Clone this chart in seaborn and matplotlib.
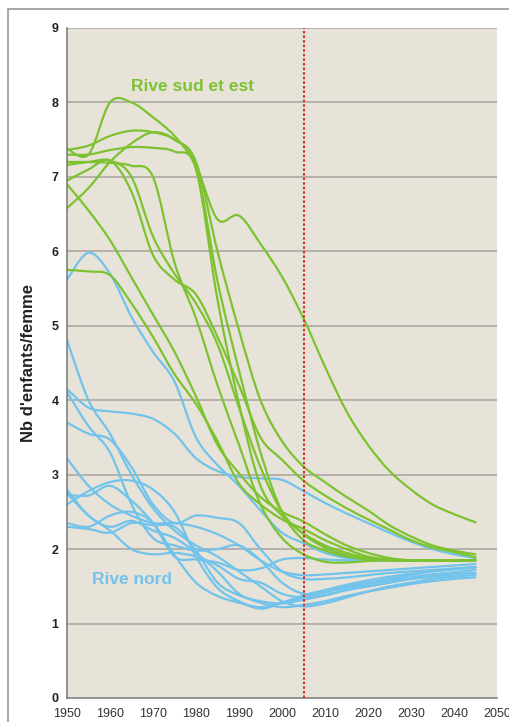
import matplotlib
matplotlib.use("Agg")
import matplotlib.pyplot as plt
import seaborn as sns
import pandas as pd
import numpy as np
from matplotlib.patches import Rectangle, PathPatch
from matplotlib.path import Path

years = [1950, 1955, 1960, 1965, 1970, 1975, 1980, 1985, 1990, 1995,
         2000, 2005, 2010, 2015, 2020, 2025, 2030, 2035, 2040, 2045]

# Rive sud et est
sud_palestine = [7.38, 7.3, 8.0, 8.0, 7.8, 7.55, 7.15, 6.43, 6.48, 6.1, 5.66, 5.1, 4.45, 3.85, 3.4, 3.05, 2.8, 2.6, 2.47, 2.36]
sud_syrie = [7.36, 7.42, 7.55, 7.62, 7.6, 7.5, 7.2, 6.0, 4.94, 4.0, 3.45, 3.11, 2.9, 2.7, 2.52, 2.32, 2.17, 2.05, 1.98, 1.93]
sud_algerie = [7.30, 7.30, 7.36, 7.40, 7.39, 7.34, 7.1, 5.35, 3.95, 2.85, 2.45, 2.21, 2.05, 1.95, 1.88, 1.85, 1.85, 1.85, 1.85, 1.85]
sud_libye = [6.58, 6.85, 7.2, 7.45, 7.6, 7.5, 7.15, 5.6, 4.4, 3.3, 2.5, 2.12, 1.98, 1.9, 1.86, 1.85, 1.85, 1.85, 1.85, 1.85]
sud_egypte = [6.95, 7.1, 7.22, 6.8, 5.95, 5.62, 5.42, 4.85, 4.2, 3.5, 3.2, 2.92, 2.72, 2.55, 2.4, 2.26, 2.12, 2.02, 1.96, 1.89]
sud_maroc = [7.16, 7.2, 7.22, 7.0, 6.2, 5.7, 5.3, 4.75, 3.9, 3.1, 2.5, 2.2, 2.02, 1.92, 1.87, 1.85, 1.85, 1.85, 1.85, 1.85]
sud_tunisie = [7.2, 7.2, 7.19, 7.15, 7.0, 5.85, 5.1, 4.2, 3.4, 2.6, 2.15, 1.93, 1.83, 1.82, 1.84, 1.85, 1.85, 1.85, 1.85, 1.85]
sud_turquie = [6.9, 6.55, 6.15, 5.65, 5.15, 4.65, 4.05, 3.4, 3.02, 2.7, 2.5, 2.37, 2.2, 2.05, 1.95, 1.88, 1.85, 1.85, 1.85, 1.85]
sud_liban = [5.75, 5.73, 5.68, 5.3, 4.85, 4.35, 3.95, 3.45, 2.88, 2.6, 2.4, 2.27, 2.12, 2.0, 1.9, 1.86, 1.85, 1.85, 1.85, 1.85]

# Rive nord
nord_albanie = [5.62, 5.98, 5.7, 5.12, 4.65, 4.25, 3.5, 3.13, 2.85, 2.52, 2.22, 2.08, 1.95, 1.88, 1.85, 1.85, 1.85, 1.85, 1.85, 1.85]
nord_bosnie = [4.81, 4.0, 3.55, 3.0, 2.55, 2.25, 2.05, 1.9, 1.7, 1.5, 1.3, 1.23, 1.27, 1.35, 1.43, 1.5, 1.55, 1.6, 1.63, 1.65]
nord_israel = [4.15, 3.9, 3.85, 3.82, 3.75, 3.55, 3.22, 3.05, 2.97, 2.95, 2.93, 2.78, 2.62, 2.48, 2.35, 2.22, 2.1, 2.0, 1.93, 1.88]
nord_malte = [4.11, 3.65, 3.3, 2.6, 2.15, 2.05, 1.98, 2.0, 2.05, 1.85, 1.55, 1.4, 1.42, 1.5, 1.55, 1.6, 1.65, 1.7, 1.73, 1.76]
nord_chypre = [3.7, 3.55, 3.47, 3.1, 2.6, 2.35, 2.45, 2.42, 2.35, 2.0, 1.7, 1.6, 1.6, 1.62, 1.65, 1.68, 1.7, 1.72, 1.74, 1.76]
nord_serbie = [3.22, 2.85, 2.6, 2.45, 2.35, 2.35, 2.3, 2.2, 2.05, 1.85, 1.7, 1.65, 1.66, 1.68, 1.7, 1.72, 1.74, 1.76, 1.78, 1.8]
nord_slovenie = [2.8, 2.45, 2.3, 2.38, 2.25, 2.15, 1.95, 1.7, 1.4, 1.28, 1.22, 1.25, 1.3, 1.37, 1.43, 1.48, 1.53, 1.57, 1.6, 1.62]
nord_croatie = [2.75, 2.45, 2.25, 2.0, 1.93, 1.95, 1.9, 1.78, 1.6, 1.55, 1.4, 1.35, 1.38, 1.45, 1.5, 1.55, 1.6, 1.63, 1.66, 1.68]
nord_france = [2.73, 2.72, 2.85, 2.65, 2.35, 1.9, 1.86, 1.82, 1.72, 1.74, 1.86, 1.88, 1.86, 1.85, 1.85, 1.85, 1.85, 1.85, 1.85, 1.85]
nord_espagne = [2.6, 2.78, 2.9, 2.92, 2.8, 2.5, 1.9, 1.48, 1.3, 1.2, 1.28, 1.38, 1.45, 1.52, 1.58, 1.63, 1.67, 1.7, 1.73, 1.75]
nord_italie = [2.35, 2.3, 2.45, 2.5, 2.35, 1.92, 1.55, 1.37, 1.28, 1.22, 1.28, 1.35, 1.42, 1.48, 1.53, 1.58, 1.62, 1.66, 1.69, 1.72]
nord_grece = [2.3, 2.27, 2.22, 2.35, 2.32, 2.3, 1.98, 1.55, 1.38, 1.3, 1.27, 1.32, 1.38, 1.45, 1.5, 1.55, 1.6, 1.63, 1.66, 1.68]

sud = {"Palestine": sud_palestine, "Syrie": sud_syrie, "Algérie": sud_algerie,
       "Libye": sud_libye, "Egypte": sud_egypte, "Maroc": sud_maroc,
       "Tunisie": sud_tunisie, "Turquie": sud_turquie, "Liban": sud_liban}
nord = {"Albanie": nord_albanie, "Bosnie": nord_bosnie, "Israël": nord_israel,
        "Malte": nord_malte, "Chypre": nord_chypre, "Serbie": nord_serbie,
        "Slovénie": nord_slovenie, "Croatie": nord_croatie, "France": nord_france,
        "Espagne": nord_espagne, "Italie": nord_italie, "Grèce": nord_grece}

rows = []
for region, d in (("nord", nord), ("sud", sud)):
    for country, vals in d.items():
        for y, v in zip(years, vals):
            rows.append({"year": y, "tfr": v, "country": country, "region": region})
df = pd.DataFrame(rows)

sns.set_theme(style="white")
plt.rcParams["font.family"] = ["Liberation Sans", "DejaVu Sans"]

GREEN = "#7DC230"
BLUE = "#72C3EC"
BG = "#E7E3D8"


def smooth_path(x, y):
    """Excel-style smoothed line (Catmull-Rom as cubic Bezier) in data space."""
    pts = np.column_stack([x, y])
    n = len(pts)
    verts = [pts[0]]
    codes = [Path.MOVETO]
    for i in range(n - 1):
        p0 = pts[i - 1] if i > 0 else pts[i]
        p1 = pts[i]
        p2 = pts[i + 1]
        p3 = pts[i + 2] if i + 2 < n else pts[i + 1]
        verts += [p1 + (p2 - p0) / 6.0, p2 - (p3 - p1) / 6.0, p2]
        codes += [Path.CURVE4] * 3
    return Path(verts, codes)


fig = plt.figure(figsize=(5.09, 7.22), dpi=100)
fig.patch.set_facecolor("white")
fig.patches.append(Rectangle((8 / 509, -0.01), 1.2, 1 - 9 / 722 + 0.01,
                             transform=fig.transFigure, fill=False,
                             edgecolor="#9A9A9A", lw=1.2))

ax = fig.add_axes([67 / 509, 1 - 698 / 722, (497 - 67) / 509, (698 - 28) / 722])
ax.set_facecolor(BG)

for yv in range(1, 10):
    ax.axhline(yv, color="#A8A49E", lw=1.1, zorder=0.5)

n_before = len(ax.lines)
sns.lineplot(data=df, x="year", y="tfr", hue="region", units="country",
             estimator=None, palette={"sud": GREEN, "nord": BLUE},
             hue_order=["nord", "sud"], legend=False, lw=1.6, ax=ax, zorder=2)

# render seaborn's lines with Excel-like smoothing
for ln in list(ax.lines[n_before:]):
    xd, yd = ln.get_xdata(), ln.get_ydata()
    patch = PathPatch(smooth_path(np.asarray(xd, float), np.asarray(yd, float)),
                      facecolor="none", edgecolor=ln.get_color(), lw=1.6,
                      capstyle="round", joinstyle="round", zorder=2)
    ax.add_patch(patch)
    ln.set_visible(False)

ax.axvline(2005, color="#D6322B", lw=1.5, ls=(0, (1.2, 1.0)), zorder=3)

ax.set_xlim(1950, 2050)
ax.set_ylim(0, 9)
ax.set_xticks(range(1950, 2051, 10))
ax.set_yticks(range(0, 10))
ax.set_xlabel("")
ax.set_ylabel("Nb d'enfants/femme", fontsize=12, fontweight="bold", color="#222222")
ax.yaxis.set_label_coords(-0.072, 0.5)
ax.tick_params(axis="x", labelsize=9, colors="#333333", length=4, width=1, direction="out", pad=3, color="#777777")
ax.tick_params(axis="y", labelsize=9, colors="#222222", length=4, width=1, direction="out", pad=2, color="#777777")
for lab in ax.get_yticklabels():
    lab.set_fontweight("bold")
for s in ("top", "right"):
    ax.spines[s].set_visible(False)
for s in ("left", "bottom"):
    ax.spines[s].set_color("#777777")
    ax.spines[s].set_linewidth(1.1)

ax.text(1979.3, 8.22, "Rive sud et est", color=GREEN, fontsize=12.5, fontweight="bold",
        ha="center", va="center")
ax.text(1965.2, 1.59, "Rive nord", color=BLUE, fontsize=12.5, fontweight="bold",
        ha="center", va="center")

fig.savefig("out.png", dpi=100, facecolor="white")
